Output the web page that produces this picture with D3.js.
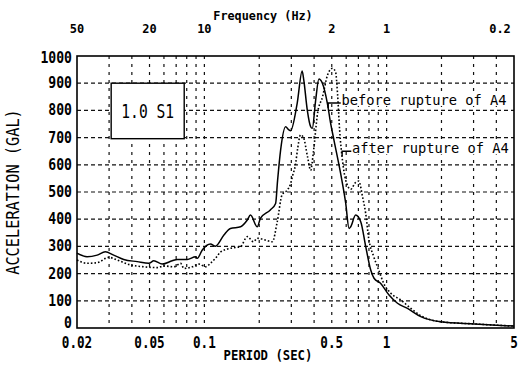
<!DOCTYPE html>
<html>
<head>
<meta charset="utf-8">
<script src="https://cdn.jsdelivr.net/npm/d3@7"></script>
<style>
  html, body { margin: 0; padding: 0; background: #fff; }
  svg { display: block; }
</style>
</head>
<body>
<div id="chart"></div>
<script>
// period (s) / acceleration (gal)
const periodTicks = [0.02, 0.05, 0.1, 0.5, 1, 5];
const periodLabels = ['0.02', '0.05', '0.1', '0.5', '1', '5'];
const freqLabels = ['50', '20', '10', '2', '1', '0.2'];
const accelTicks = [0, 100, 200, 300, 400, 500, 600, 700, 800, 900, 1000];
const gridPeriods = [0.03, 0.04, 0.05, 0.06, 0.07, 0.08, 0.09, 0.1,
  0.2, 0.3, 0.4, 0.5, 0.6, 0.7, 0.8, 0.9, 1, 2, 3, 4];
const gridAccel = [100, 200, 300, 400, 500, 600, 700, 800, 900];

const beforePeriod = [0.020, 0.0227, 0.0258, 0.0286, 0.0318, 0.0361, 0.0428, 0.0496, 0.0528,
  0.0587, 0.0666, 0.071, 0.0805, 0.0895, 0.0914, 0.0974, 0.108, 0.115, 0.128, 0.139, 0.158,
  0.172, 0.179, 0.195, 0.203, 0.230, 0.246, 0.252, 0.262, 0.279, 0.291, 0.297, 0.323, 0.344,
  0.351, 0.367, 0.383, 0.391, 0.408, 0.425, 0.444, 0.473, 0.493, 0.514, 0.559, 0.596, 0.622,
  0.635, 0.676, 0.721, 0.768, 0.818, 0.853, 0.928, 1.031, 1.147, 1.302, 1.54, 1.98, 3.03, 5.0];
const beforeAccel = [275, 262, 268, 280, 268, 252, 244, 238, 247,
  235, 247, 252, 252, 262, 256, 287, 309, 301, 342, 366, 372,
  397, 415, 372, 403, 434, 458, 540, 654, 740, 728, 725, 826, 945,
  912, 801, 740, 734, 838, 915, 900, 826, 752, 691, 569, 460, 366,
  372, 415, 391, 299, 213, 183, 164, 121, 91, 72, 42, 23, 15, 7];

const afterPeriod = [0.020, 0.0227, 0.0258, 0.0299, 0.0332, 0.0393, 0.0465, 0.0551, 0.060,
  0.0681, 0.074, 0.0773, 0.0858, 0.0934, 0.1016, 0.108, 0.115, 0.123, 0.139, 0.158, 0.172,
  0.186, 0.195, 0.212, 0.236, 0.251, 0.267, 0.285, 0.297, 0.305, 0.316, 0.325, 0.337, 0.350,
  0.368, 0.383, 0.397, 0.418, 0.445, 0.474, 0.505, 0.525, 0.538, 0.552, 0.574, 0.596, 0.635,
  0.676, 0.703, 0.739, 0.768, 0.797, 0.850, 0.905, 0.964, 1.054, 1.196, 1.358, 1.54, 1.98, 3.03, 5.0];
const afterAccel = [250, 238, 240, 260, 250, 232, 225, 222, 228,
  225, 238, 219, 225, 235, 225, 238, 256, 280, 293, 299, 336,
  317, 330, 325, 317, 390, 490, 507, 530, 560, 600, 660, 710, 700,
  630, 580, 650, 790, 850, 930, 955, 940, 860, 730, 610, 544, 510,
  535, 540, 480, 420, 330, 262, 213, 164, 128, 103, 72, 45, 23, 15, 7];

const W = 526, H = 374;
const margin = { top: 56, right: 12, bottom: 46, left: 77 };
const FONT = "'DejaVu Sans Mono', 'Liberation Mono', monospace";

const svg = d3.select('#chart').append('svg')
  .attr('width', W)
  .attr('height', H)
  .style('font-family', FONT);

const x = d3.scaleLog().domain([0.02, 5]).range([margin.left, W - margin.right]);
const y = d3.scaleLinear().domain([0, 1000]).range([H - margin.bottom, margin.top]);

// text squeezed to the narrow typewriter look of the scan
function addText(sel, str, px, py, size, charW, anchor, weight) {
  return sel.append('text')
    .attr('x', px)
    .attr('y', py)
    .attr('font-size', size)
    .attr('font-weight', weight || 'normal')
    .attr('text-anchor', anchor || 'start')
    .attr('textLength', str.length * charW)
    .attr('lengthAdjust', 'spacingAndGlyphs')
    .text(str);
}

// grid
const grid = svg.append('g').attr('stroke', '#111').attr('stroke-width', 1.2).attr('fill', 'none');
grid.selectAll('.h').data(gridAccel).enter().append('line')
  .attr('x1', x(0.02)).attr('x2', x(5))
  .attr('y1', d => y(d)).attr('y2', d => y(d))
  .attr('stroke-dasharray', '4,3');
grid.selectAll('.v').data(gridPeriods).enter().append('line')
  .attr('x1', d => x(d)).attr('x2', d => x(d))
  .attr('y1', y(1000)).attr('y2', y(0))
  .attr('stroke-dasharray', '3,5');

// curves
const line = d3.line()
  .x(d => x(d[0]))
  .y(d => y(d[1]))
  .curve(d3.curveMonotoneX);

svg.append('path')
  .datum(afterPeriod.map((p, i) => [p, afterAccel[i]]))
  .attr('d', line)
  .attr('fill', 'none')
  .attr('stroke', '#000')
  .attr('stroke-width', 1.6)
  .attr('stroke-dasharray', '1.6,2');

svg.append('path')
  .datum(beforePeriod.map((p, i) => [p, beforeAccel[i]]))
  .attr('d', line)
  .attr('fill', 'none')
  .attr('stroke', '#000')
  .attr('stroke-width', 1.5);

// frame
svg.append('rect')
  .attr('x', x(0.02)).attr('y', y(1000))
  .attr('width', x(5) - x(0.02)).attr('height', y(0) - y(1000))
  .attr('fill', 'none')
  .attr('stroke', '#000')
  .attr('stroke-width', 1.6);

// case box
svg.append('rect')
  .attr('x', x(0.0308)).attr('y', y(900))
  .attr('width', x(0.0775) - x(0.0308)).attr('height', y(696) - y(900))
  .attr('fill', '#fff')
  .attr('stroke', '#000')
  .attr('stroke-width', 1.4);
addText(svg, '1.0 S1', (x(0.0308) + x(0.0775)) / 2, y(798) + 7, 20, 8.8, 'middle');

// series labels with leaders
const notes = [
  { text: 'before rupture of A4', p0: 0.478, p1: 0.56, a: 827, tx: 0.565, ta: 820 },
  { text: 'after rupture of A4', p0: 0.57, p1: 0.64, a: 650, tx: 0.645, ta: 642 }
];
notes.forEach(n => {
  const t = addText(svg, n.text, x(n.tx), y(n.ta), 14, 8.25, 'start');
  const bb = t.node().getBBox();
  svg.insert('rect', 'text')
    .attr('x', bb.x).attr('y', bb.y + 2)
    .attr('width', Math.min(bb.width, x(5) - bb.x - 1)).attr('height', bb.height - 4)
    .attr('fill', '#fff');
  svg.append('path')
    .attr('d', `M${x(n.p0)},${y(n.a) + 5}V${y(n.a)}H${x(n.p1)}`)
    .attr('fill', 'none')
    .attr('stroke', '#000')
    .attr('stroke-width', 1.4);
});

// y tick labels
accelTicks.forEach(a => {
  const dy = a === 0 ? 0 : (a === 1000 ? 7 : 5);
  addText(svg, String(a), margin.left - 5, y(a) + dy, 15, 7.9, 'end', 'bold');
});

// bottom period labels
periodTicks.forEach((p, i) => {
  addText(svg, periodLabels[i], x(p), y(0) + 20, 15, 7.6, 'middle', 'bold');
});

// top frequency labels
periodTicks.forEach((p, i) => {
  const px = i === periodTicks.length - 1 ? x(p) - 14 : x(p);
  addText(svg, freqLabels[i], px, y(1000) - 23, 13, 7.2, 'middle', 'bold');
});

// axis titles
addText(svg, 'Frequency (Hz)', 263, 20, 13, 7.1, 'middle', 'bold');
addText(svg, 'PERIOD (SEC)', 268, 360, 14, 7.4, 'middle', 'bold');
addText(svg, 'ACCELERATION (GAL)', 0, 0, 17, 9.2, 'middle', 'normal')
  .attr('transform', `translate(19,${(y(0) + y(1000)) / 2}) rotate(-90)`);
</script>
</body>
</html>
